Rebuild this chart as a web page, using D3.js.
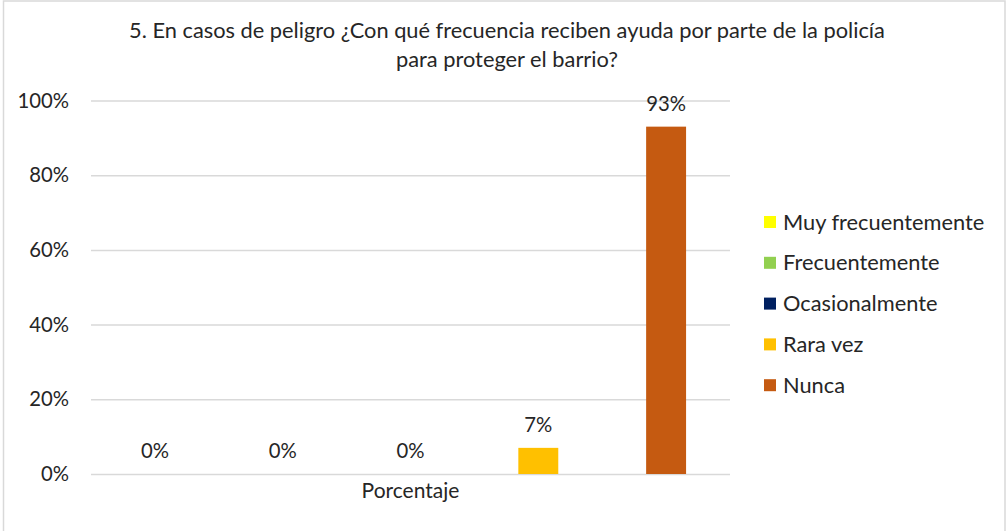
<!DOCTYPE html>
<html>
<head>
<meta charset="utf-8">
<script src="https://cdn.jsdelivr.net/npm/d3@7"></script>
<style>
    html, body { margin: 0; padding: 0; background: #fff; }
    svg text { font-family: Lato, "Open Sans", sans-serif; fill: #262626; }
</style>
</head>
<body>
<div id="chart"></div>
<script>
// Data
var categories = ["Porcentaje"];
var seriesNames = ["Muy frecuentemente", "Frecuentemente", "Ocasionalmente", "Rara vez", "Nunca"];
var seriesValues = [0, 0, 0, 0.07, 0.93];
var seriesColors = ["#FFFF00", "#92D050", "#002060", "#FFC000", "#C55A11"];
var yTicks = [0, 0.2, 0.4, 0.6, 0.8, 1];
var titleLines = ["5. En casos de peligro ¿Con qué frecuencia reciben ayuda por parte de la policía",
                  "para proteger el barrio?"];

(function(){
    "use strict";

    var width = 1006;
    var height = 531;
    var margin = {top: 100.5, left: 91, right: 276, bottom: 57};

    var svg = d3.select("#chart")
        .append("svg")
        .attr("width", width)
        .attr("height", height);

    //------------------------------------------------------------------------------------------
    // Chart border
    //------------------------------------------------------------------------------------------
    svg.append("rect")
        .attr("x", 3.5)
        .attr("y", 1)
        .attr("width", 1001.5)
        .attr("height", height + 10)
        .attr("fill", "none")
        .attr("stroke", "#d9d9d9")
        .attr("stroke-width", 1.5);

    //------------------------------------------------------------------------------------------
    // Title
    //------------------------------------------------------------------------------------------
    svg.selectAll(".title")
        .data(titleLines)
        .enter()
        .append("text")
        .attr("class", "title")
        .attr("x", 507)
        .attr("y", function(d, i) { return 38 + i * 29; })
        .attr("text-anchor", "middle")
        .style("font-size", "21.8px")
        .text(function(d) { return d; });

    //------------------------------------------------------------------------------------------
    // Scales
    //------------------------------------------------------------------------------------------
    var x0 = d3.scaleBand()
        .domain(categories)
        .range([margin.left, width - margin.right]);

    var x1 = d3.scaleBand()
        .domain(seriesNames)
        .range([x0(categories[0]), x0(categories[0]) + x0.bandwidth()])
        .paddingInner(0.6875)
        .paddingOuter(0.34375);

    var y = d3.scaleLinear()
        .domain([0, 1])
        .range([height - margin.bottom, margin.top]);

    //------------------------------------------------------------------------------------------
    // Gridlines and y axis
    //------------------------------------------------------------------------------------------
    var yAxis = d3.axisLeft(y)
        .tickValues(yTicks)
        .tickSize(-(width - margin.left - margin.right))
        .tickPadding(22)
        .tickFormat(d3.format(".0%"));

    var gAxis = svg.append("g")
        .attr("transform", "translate(" + margin.left + ",0)")
        .call(yAxis);

    gAxis.select(".domain").remove();
    gAxis.selectAll(".tick line")
        .attr("stroke", "#d9d9d9")
        .attr("stroke-width", 1.5);
    gAxis.selectAll(".tick text")
        .attr("font-family", null)
        .style("font-size", "20.3px")
        .attr("fill", "#262626");

    //------------------------------------------------------------------------------------------
    // Bars
    //------------------------------------------------------------------------------------------
    var bars = svg.selectAll(".bar")
        .data(seriesNames)
        .enter()
        .append("g")
        .attr("class", "bar");

    bars.append("rect")
        .attr("x", function(d) { return x1(d); })
        .attr("y", function(d, i) { return y(seriesValues[i]); })
        .attr("width", x1.bandwidth())
        .attr("height", function(d, i) { return y(0) - y(seriesValues[i]); })
        .attr("fill", function(d, i) { return seriesColors[i]; });

    bars.append("text")
        .attr("x", function(d) { return x1(d) + x1.bandwidth() / 2; })
        .attr("y", function(d, i) { return y(seriesValues[i]) - 16; })
        .attr("text-anchor", "middle")
        .style("font-size", "20.3px")
        .text(function(d, i) { return d3.format(".0%")(seriesValues[i]); });

    //------------------------------------------------------------------------------------------
    // Category label
    //------------------------------------------------------------------------------------------
    svg.append("text")
        .attr("x", x0(categories[0]) + x0.bandwidth() / 2)
        .attr("y", y(0) + 24)
        .attr("text-anchor", "middle")
        .style("font-size", "21px")
        .text(categories[0]);

    //------------------------------------------------------------------------------------------
    // Legend
    //------------------------------------------------------------------------------------------
    var legend = svg.selectAll(".legend")
        .data(seriesNames)
        .enter()
        .append("g")
        .attr("class", "legend")
        .attr("transform", function(d, i) {
            return "translate(764," + (222 + i * 40.8) + ")";
        });

    legend.append("rect")
        .attr("x", 0)
        .attr("y", -6)
        .attr("width", 12)
        .attr("height", 12)
        .attr("fill", function(d, i) { return seriesColors[i]; });

    legend.append("text")
        .attr("x", 19)
        .attr("dy", "0.35em")
        .style("font-size", "21.8px")
        .text(function(d) { return d; });

})();
</script>
</body>
</html>
